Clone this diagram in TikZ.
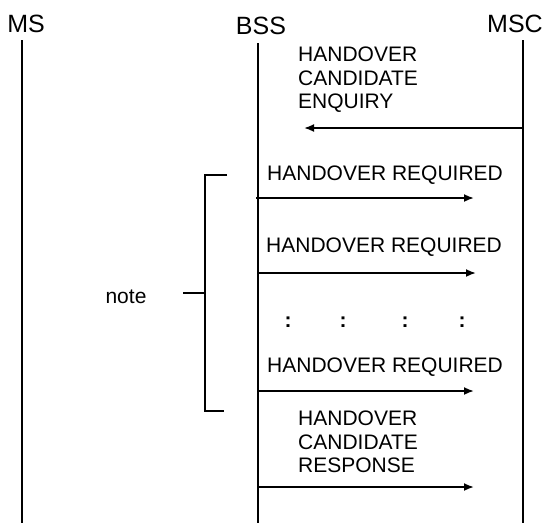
\documentclass[tikz,border=0pt]{standalone}
\usepackage{fontspec}
\setmainfont{Liberation Sans}
\usetikzlibrary{arrows.meta}
\begin{document}
\begin{tikzpicture}[x=1pt,y=-1pt,
  life/.style={line width=1.8pt},
  msg/.style={line width=1.8pt,-{Latex[length=10pt,width=8pt]}},
  brk/.style={line width=1.8pt},
  head/.style={font=\fontsize{25}{28}\selectfont, inner sep=0pt},
  lbl/.style={font=\fontsize{21}{23.5}\selectfont, inner sep=0pt, align=left, anchor=west},
  dotc/.style={font=\fontsize{21}{24}\selectfont\bfseries, inner sep=0pt},
]
\useasboundingbox (0,0) rectangle (551,523);
% heads
\node[head] (ms) at (26,24) {MS};
\node[head] (bss) at (261,26) {BSS};
\node[head] (msc) at (515,24) {MSC};
% lifelines
\coordinate (msT) at (22,40);  \coordinate (msB) at (22,523);
\coordinate (bssT) at (258,43); \coordinate (bssB) at (258,523);
\coordinate (mscT) at (523,40); \coordinate (mscB) at (523,523);
\draw[life] (msT) -- (msB);
\draw[life] (bssT) -- (bssB);
\draw[life] (mscT) -- (mscB);
% enquiry
\node[lbl] (enq) at (298,80) {HANDOVER\\CANDIDATE\\ENQUIRY};
\coordinate (e1) at (523,128); \coordinate (e2) at (304,128);
\draw[msg] (e1) -- (e2);
% handover required 1
\node[lbl] (hr1) at (267,175) {HANDOVER REQUIRED};
\coordinate (a1) at (256,198); \coordinate (b1) at (474,198);
\draw[msg] (a1) -- (b1);
% handover required 2
\node[lbl] (hr2) at (266,247) {HANDOVER REQUIRED};
\coordinate (a2) at (258,273); \coordinate (b2) at (476,273);
\draw[msg] (a2) -- (b2);
% dots
\node[dotc] (d1) at (288,322) {:};
\node[dotc] (d2) at (343,322) {:};
\node[dotc] (d3) at (405,322) {:};
\node[dotc] (d4) at (462,322) {:};
% handover required 3
\node[lbl] (hr3) at (267,367) {HANDOVER REQUIRED};
\coordinate (a3) at (258,391); \coordinate (b3) at (474,391);
\draw[msg] (a3) -- (b3);
% response
\node[lbl] (resp) at (298,442) {HANDOVER\\CANDIDATE\\RESPONSE};
\coordinate (a4) at (258,487); \coordinate (b4) at (474,487);
\draw[msg] (a4) -- (b4);
% bracket
\coordinate (bt) at (227,175); \coordinate (bb) at (224,411);
\draw[brk] (bt) -- (205,175) -- (205,411) -- (bb);
\coordinate (bm) at (205,293); \coordinate (bn) at (183,293);
\draw[brk] (bm) -- (bn);
\node[font=\fontsize{21}{24}\selectfont, inner sep=0pt] (note) at (126,297) {note};
\end{tikzpicture}
\end{document}
